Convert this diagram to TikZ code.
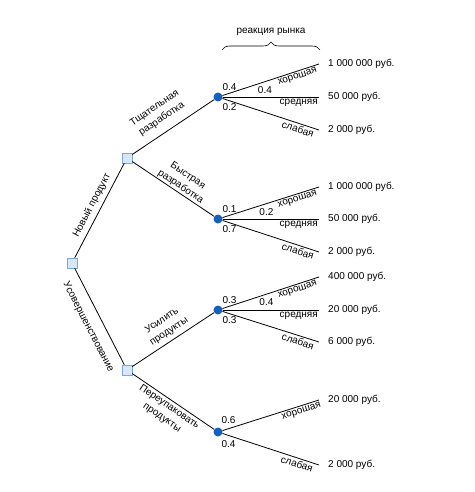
\documentclass[tikz,border=0pt]{standalone}
\usepackage{fontspec}
\setmainfont{Liberation Sans}
\usepackage{xcolor}
\usetikzlibrary{positioning,calc,decorations.pathreplacing}

\definecolor{squarefill}{HTML}{D6E7FA}
\definecolor{squareline}{HTML}{7FA7D6}
\definecolor{chanceblue}{HTML}{1560BD}

\begin{document}
\begin{tikzpicture}[
	x=1pt, y=1pt,
	font=\fontsize{10}{12}\selectfont,
	decision/.style={
		draw=squareline,
		fill=squarefill,
		line width=0.5pt,
		minimum size=10pt,
		inner sep=0pt
	},
	chance/.style={
		circle,
		fill=chanceblue,
		minimum size=9pt,
		inner sep=0pt
	},
	branch/.style={
		line width=0.8pt
	},
	action/.style={
		sloped,
		align=center,
		inner sep=1pt,
		font=\fontsize{10}{13}\selectfont
	},
	outcome/.style={
		sloped,
		inner sep=1.5pt
	},
	prob/.style={
		inner sep=1pt
	},
	payoff/.style={
		anchor=west,
		inner xsep=9pt,
		inner ysep=0pt
	}
	]
	
	\useasboundingbox (0,0) rectangle (474,-492);
	
	%=====================================================================
	% Decision nodes
	%=====================================================================
	
	\node[decision] (root) at (72,-263) {};
	\node[decision] (up) at (127,-158) {};
	\node[decision] (low) at (127,-370) {};
	
	\draw[branch] (root) -- node[action, above=3pt, pos=0.51] {Новый продукт} (up);
	\draw[branch] (root) -- node[action, below=9pt, pos=0.54] {Усовершенствование} (low);
	
	%=====================================================================
	% Chance nodes
	%=====================================================================
	
	\node[chance] (c1) at (218,-97) {};
	\node[chance] (c2) at (218,-219) {};
	\node[chance] (c3) at (218,-310) {};
	\node[chance] (c4) at (218,-432) {};
	
	\draw[branch] (up) -- node[action, above=7pt, pos=0.45] {Тщательная\\разработка} (c1);
	\draw[branch] (up) -- node[action, above=0pt, pos=0.55] {Быстрая\\разработка} (c2);
	\draw[branch] (low) -- node[action, above=3pt, pos=0.51] {Усилить\\продукты} (c3);
	\draw[branch] (low) -- node[action, below=1pt, pos=0.5] {Переупаковать\\продукты} (c4);
	
	\node[prob, above right=2pt and 0pt of c1] (q1a) {0.4};
	\node[prob, below right=2pt and 0pt of c1] (q1b) {0.2};
	\node[prob, above right=2pt and 0pt of c2] (q2a) {0.1};
	\node[prob, below right=2pt and 0pt of c2] (q2b) {0.7};
	\node[prob, above right=2pt and 0pt of c3] (q3a) {0.3};
	\node[prob, below right=2pt and 0pt of c3] (q3b) {0.3};
	\node[prob, above right=4pt and -1pt of c4] (q4a) {0.6};
	\node[prob, below right=4pt and -1pt of c4] (q4b) {0.4};
	
	%=====================================================================
	% Market outcomes
	%=====================================================================
	
	\node[payoff] (p11) at (319,-64) {1 000 000 руб.};
	\node[payoff] (p12) at (319,-97) {50 000 руб.};
	\node[payoff] (p13) at (319,-130) {2 000 руб.};
	
	\node[payoff] (p21) at (319,-187) {1 000 000 руб.};
	\node[payoff] (p22) at (319,-219) {50 000 руб.};
	\node[payoff] (p23) at (319,-252) {2 000 руб.};
	
	\node[payoff] (p31) at (319,-277) {400 000 руб.};
	\node[payoff] (p32) at (319,-310) {20 000 руб.};
	\node[payoff] (p33) at (319,-342) {6 000 руб.};
	
	\node[payoff] (p41) at (319,-400) {20 000 руб.};
	\node[payoff] (p43) at (319,-465) {2 000 руб.};
	
	\draw[branch] (c1) -- node[prob, below=3pt, pos=0.44] {0.4}
	node[outcome, below, pos=0.76] {хорошая} (p11.west);
	\draw[branch] (c1) -- node[outcome, below, pos=0.79] {средняя} (p12.west);
	\draw[branch] (c1) -- node[outcome, below, pos=0.8] {слабая} (p13.west);
	
	\draw[branch] (c2) -- node[prob, below=3pt, pos=0.455] {0.2}
	node[outcome, below, pos=0.76] {хорошая} (p21.west);
	\draw[branch] (c2) -- node[outcome, below, pos=0.79] {средняя} (p22.west);
	\draw[branch] (c2) -- node[outcome, below, pos=0.8] {слабая} (p23.west);
	
	\draw[branch] (c3) -- node[prob, below=3pt, pos=0.455] {0.4}
	node[outcome, below, pos=0.76] {хорошая} (p31.west);
	\draw[branch] (c3) -- node[outcome, below, pos=0.79] {средняя} (p32.west);
	\draw[branch] (c3) -- node[outcome, below, pos=0.8] {слабая} (p33.west);
	
	\draw[branch] (c4) -- node[outcome, below, pos=0.8] {хорошая} (p41.west);
	\draw[branch] (c4) -- node[outcome, below, pos=0.79] {слабая} (p43.west);
	
	%=====================================================================
	% Market response brace
	%=====================================================================
	
	\coordinate (brace-l) at (222,-50);
	\coordinate (brace-r) at (320,-50);
	
	\draw[line width=0.6pt, decorate, decoration={brace, amplitude=8pt}]
	(brace-l) -- node[above=11pt] (market) {реакция рынка} (brace-r);
	
\end{tikzpicture}
\end{document}
